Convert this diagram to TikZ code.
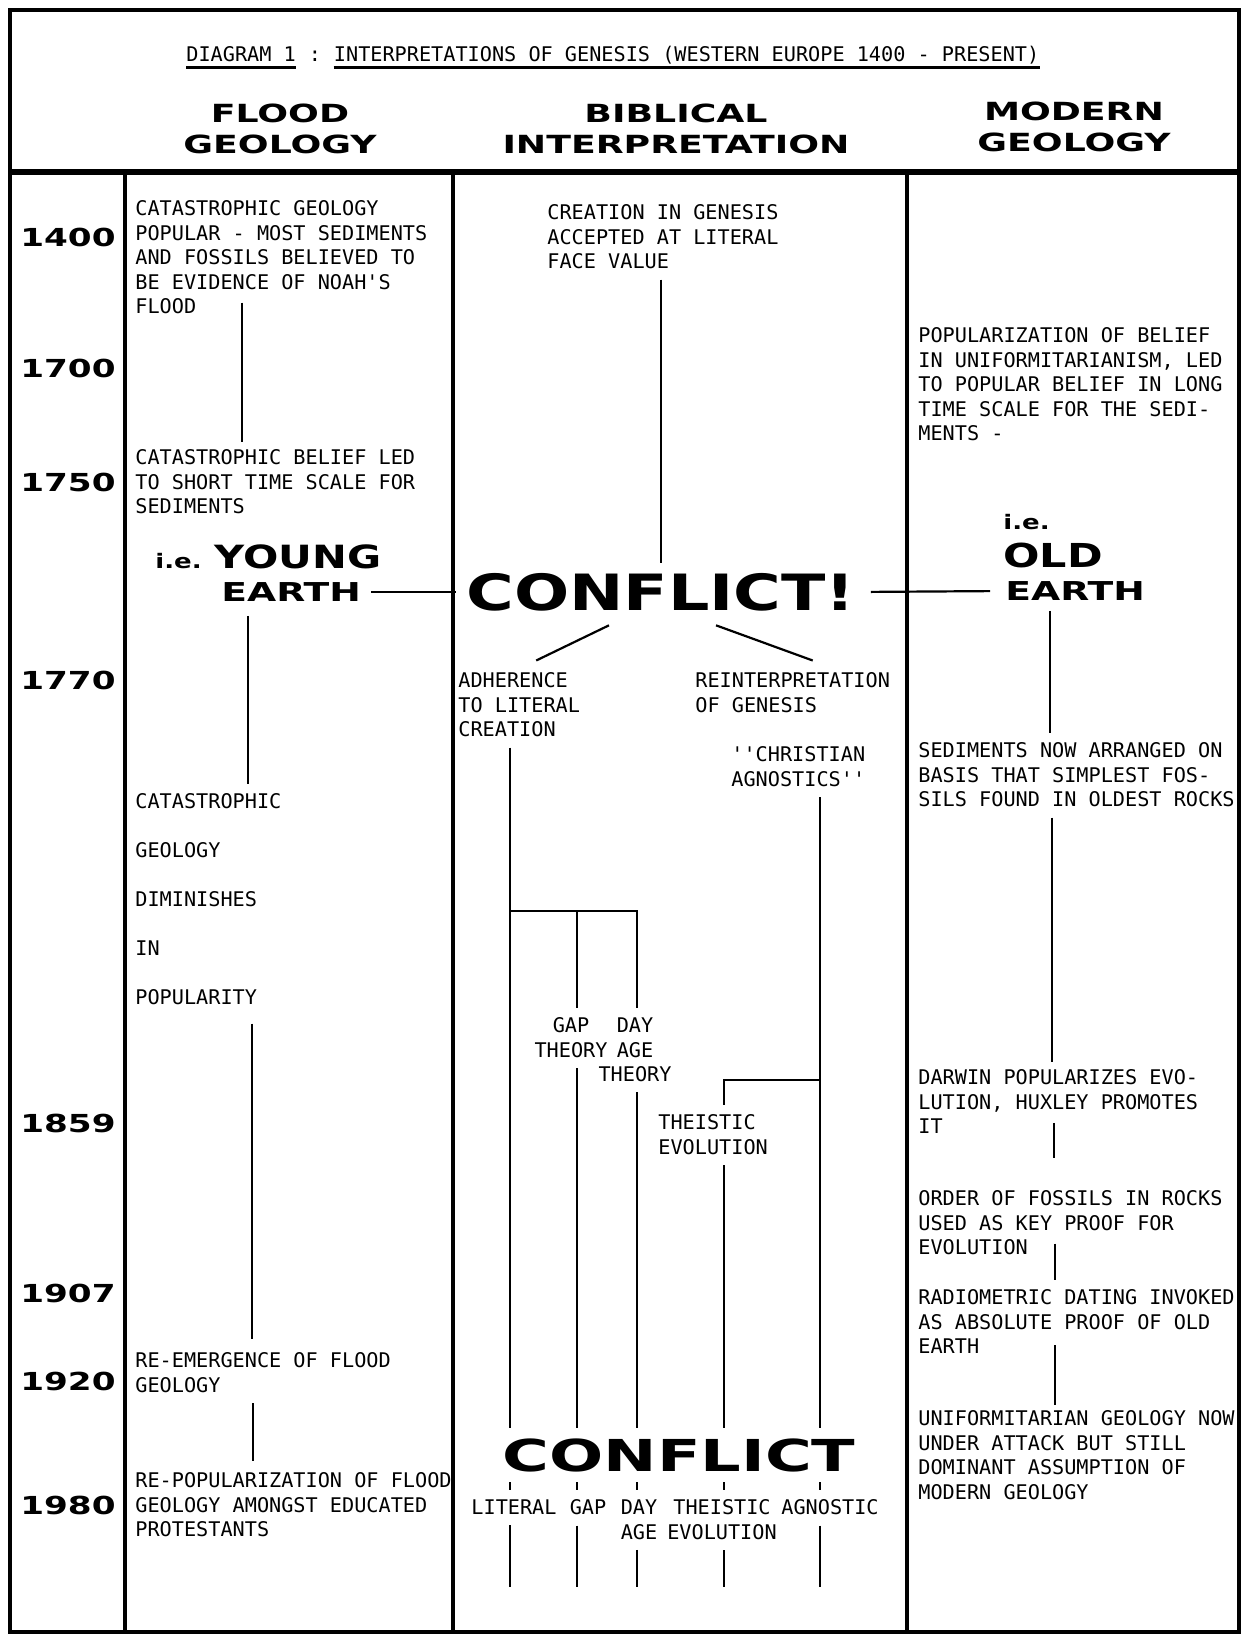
\documentclass[tikz,border=0pt]{standalone}
\usepackage{fontspec}
\usetikzlibrary{calc}
\newfontfamily\notefont{DejaVu Sans Mono}[Ligatures=TeXOff]
\newfontfamily\widefont{DejaVu Sans}[FakeStretch=1.3]
\newfontfamily\yearfont{DejaVu Sans}[FakeStretch=1.38]
\newfontfamily\extfont{DejaVu Sans}[FakeStretch=1.45]

\tikzset{
  boxline/.style={line width=2pt},
  headline/.style={line width=2.6pt},
  colline/.style={line width=1.7pt},
  link/.style={line width=1.1pt, shorten <=5pt, shorten >=5pt},
  uline/.style={line width=1.2pt},
  note/.style={font=\notefont\fontsize{10.1}{12.25}\selectfont, align=left, inner sep=0pt, anchor=north west},
  notec/.style={note, align=center, anchor=north},
  titletext/.style={font=\notefont\fontsize{10.1}{12.25}\selectfont, inner sep=0pt, anchor=base west},
  yearlab/.style={font=\yearfont\bfseries\fontsize{12.4}{14}\selectfont, inner sep=0pt, anchor=east},
  colhead/.style={font=\extfont\bfseries\fontsize{12.5}{15.5}\selectfont, align=center, inner sep=0pt},
  bigword/.style={font=\widefont\bfseries\fontsize{25}{30}\selectfont, inner sep=0pt},
  midword/.style={font=\widefont\bfseries\fontsize{16}{18}\selectfont, inner sep=0pt, anchor=west},
  earthword/.style={font=\extfont\bfseries\fontsize{13}{15}\selectfont, inner sep=0pt, anchor=west},
  ieword/.style={font=\widefont\bfseries\fontsize{10}{12}\selectfont, inner sep=0pt, anchor=west}
}

\begin{document}
\begin{tikzpicture}[x=0.5pt,y=-0.5pt]
\useasboundingbox (0,0) rectangle (1242,1638);

% frame and columns
\draw[boxline] (10,10) rectangle (1239,1632);
\draw[headline] (10,172) -- (1239,172);
\foreach \x in {125,453,907} % column dividers
\draw[colline] (\x,172) -- (\x,1632);

% title
\node[titletext] (tdiag) at (186,61.5) {DIAGRAM 1};
\node[titletext] (tcolon) at ($(tdiag.base east)+(12.16,0)$) {:};
\node[titletext] (ttext) at ($(tcolon.base east)+(12.16,0)$) {INTERPRETATIONS OF GENESIS (WESTERN EUROPE 1400 - PRESENT)};
\draw[uline] ($(tdiag.base west)+(0,6)$) -- ($(tdiag.base east)+(0,6)$);
\draw[uline] ($(ttext.base west)+(0,6)$) -- ($(ttext.base east)+(0,6)$);

% column heads
\node[colhead] (hflood) at (280,128.5) {FLOOD\\GEOLOGY};
\node[colhead] (hbib) at (676,128.5) {BIBLICAL\\INTERPRETATION};
\node[colhead] (hmod) at (1074,127) {MODERN\\GEOLOGY};

% years
\foreach \yr/\y in {1400/237, 1700/368, 1750/482, 1770/680, 1859/1123, 1907/1293, 1920/1381, 1980/1505}
\node[yearlab] (y\yr) at (116,\y) {\yr};

% x positions of the vertical links
\foreach \n/\x in {fa/242, fb/248, fc/252, fd/253, ma/1050, mb/1052, mc/1054, md/1055, me/1055,
                   xl/510, xg/577, xd/637, xt/724, xa/820}
\coordinate (\n) at (\x,0);
\coordinate (bar1) at (0,911);
\coordinate (bar2) at (0,1080);
\coordinate (foot) at (0,1587);

% flood geology
\node[note] (fl1) at (135,200.5) {CATASTROPHIC GEOLOGY\\POPULAR - MOST SEDIMENTS\\AND FOSSILS BELIEVED TO\\BE EVIDENCE OF NOAH'S\\FLOOD};
\node[note] (fl2) at (135,449.5) {CATASTROPHIC BELIEF LED\\TO SHORT TIME SCALE FOR\\SEDIMENTS};
\node[ieword] (yie) at (155,561) {i.e.};
\node[midword] (young) at (214,557) {YOUNG};
\node[earthword] (yearth) at (221,592) {EARTH};
\node[note, font=\notefont\fontsize{10.1}{24.5}\selectfont] (fl3) at (135,793.5) {CATASTROPHIC\\GEOLOGY\\DIMINISHES\\IN\\POPULARITY};
\node[note] (fl4) at (135,1352.5) {RE-EMERGENCE OF FLOOD\\GEOLOGY};
\node[note] (fl5) at (135,1472.5) {RE-POPULARIZATION OF FLOOD\\GEOLOGY AMONGST EDUCATED\\PROTESTANTS};

\draw[link, shorten <=-6pt, shorten >=3.75pt] (fl1.south -| fa) -- (fl2.north -| fa);
\draw[link, shorten <=7pt] (yearth.south -| fb) -- (fl3.north -| fb);
\draw[link, shorten <=9pt, shorten >=7pt] (fl3.south -| fc) -- (fl4.north -| fc);
\draw[link, shorten >=6pt] (fl4.south -| fd) -- (fl5.north -| fd);

% modern geology
\node[note] (m1) at (918,327.5) {POPULARIZATION OF BELIEF\\IN UNIFORMITARIANISM, LED\\TO POPULAR BELIEF IN LONG\\TIME SCALE FOR THE SEDI-\\MENTS -};
\node[ieword] (oie) at (1003,522) {i.e.};
\node[midword, font=\widefont\bfseries\fontsize{16.5}{18}\selectfont] (old) at (1003,555) {OLD};
\node[earthword] (oearth) at (1005,591) {EARTH};
\node[note] (m2) at (918,742.5) {SEDIMENTS NOW ARRANGED ON\\BASIS THAT SIMPLEST FOS-\\SILS FOUND IN OLDEST ROCKS};
\node[note] (m3) at (918,1069.5) {DARWIN POPULARIZES EVO-\\LUTION, HUXLEY PROMOTES\\IT};
\node[note] (m4) at (918,1190.5) {ORDER OF FOSSILS IN ROCKS\\USED AS KEY PROOF FOR\\EVOLUTION};
\node[note] (m5) at (918,1289.5) {RADIOMETRIC DATING INVOKED\\AS ABSOLUTE PROOF OF OLD\\EARTH};
\node[note] (m6) at (918,1410.5) {UNIFORMITARIAN GEOLOGY NOW\\UNDER ATTACK BUT STILL\\DOMINANT ASSUMPTION OF\\MODERN GEOLOGY};

\draw[link] (oearth.south -| ma) -- (m2.north -| ma);
\draw[link, shorten >=3.75pt] (m2.south -| mb) -- (m3.north -| mb);
\draw[link, shorten <=-5.7pt, shorten >=16.5pt] (m3.south -| mc) -- (m4.north -| mc);
\draw[link, shorten <=-6pt, shorten >=4.75pt] (m4.south -| md) -- (m5.north -| md);
\draw[link, shorten <=-4.5pt, shorten >=2.75pt] (m5.south -| me) -- (m6.north -| me);

% biblical interpretation
\node[note] (bib1) at (547,204.5) {CREATION IN GENESIS\\ACCEPTED AT LITERAL\\FACE VALUE};
\node[bigword] (conflict) at (661,592) {CONFLICT!};
\node[note] (adh) at (458,672.5) {ADHERENCE\\TO LITERAL\\CREATION};
\node[note] (reint) at (695,672.5) {REINTERPRETATION\\OF GENESIS};
\node[note] (cagn) at (731,746.5) {''CHRISTIAN\\AGNOSTICS''};
\node[notec] (gap) at (571,1017.5) {GAP\\THEORY};
\node[notec] (day) at (635,1017.5) {DAY\\AGE\\THEORY};
\node[note] (theis) at (658,1114.5) {THEISTIC\\EVOLUTION};
\node[font=\extfont\bfseries\fontsize{22}{26}\selectfont, inner sep=0pt] (bconf) at (679,1455) {CONFLICT};

\draw[link] (bib1.south -| conflict.north) -- (conflict.north);
\draw[link, shorten <=0pt, shorten >=0pt] ($(conflict.south)+(-52,14)$) -- ($(adh.north)+(17,-12)$);
\draw[link, shorten <=0pt, shorten >=0pt] ($(conflict.south)+(55,14)$) -- ($(reint.north)+(20,-12)$);
\draw[link] (yearth.east) -- (conflict.west);
\draw[link, shorten <=7.5pt, shorten >=7.5pt] (conflict.east) -- (oearth.west);

% literal branch and its split
\draw[link] (adh.south -| xl) -- (bar1 -| xl) -- (bar1 -| xd) -- (day.north -| xd);
\draw[link, shorten <=0pt] (bar1 -| xg) -- (gap.north -| xg);
\draw[link, shorten <=0pt] (bar1 -| xl) -- (bconf.north -| xl);
\draw[link] (gap.south -| xg) -- (bconf.north -| xg);
\draw[link] (day.south -| xd) -- (bconf.north -| xd);
% reinterpretation branch
\draw[link] (cagn.south -| xa) -- (bconf.north -| xa);
\draw[link, shorten <=0pt] (bar2 -| xa) -- (bar2 -| xt) -- (theis.north -| xt);
\draw[link] (theis.south -| xt) -- (bconf.north -| xt);

% final positions
\foreach \n/\x/\t in {lit/514/LITERAL, gapl/588/GAP, dayl/639/DAY\\AGE, theil/722/THEISTIC\\EVOLUTION, agnl/830/AGNOSTIC}
\node[notec] (\n) at (\x,1499.5) {\t};
\foreach \n/\c in {lit/xl, gapl/xg, dayl/xd, theil/xt, agnl/xa}
{
\draw[link] (bconf.south -| \c) -- (\n.north -| \c);
\draw[link, shorten >=0pt] (\n.south -| \c) -- (foot -| \c);
}
\end{tikzpicture}
\end{document}
